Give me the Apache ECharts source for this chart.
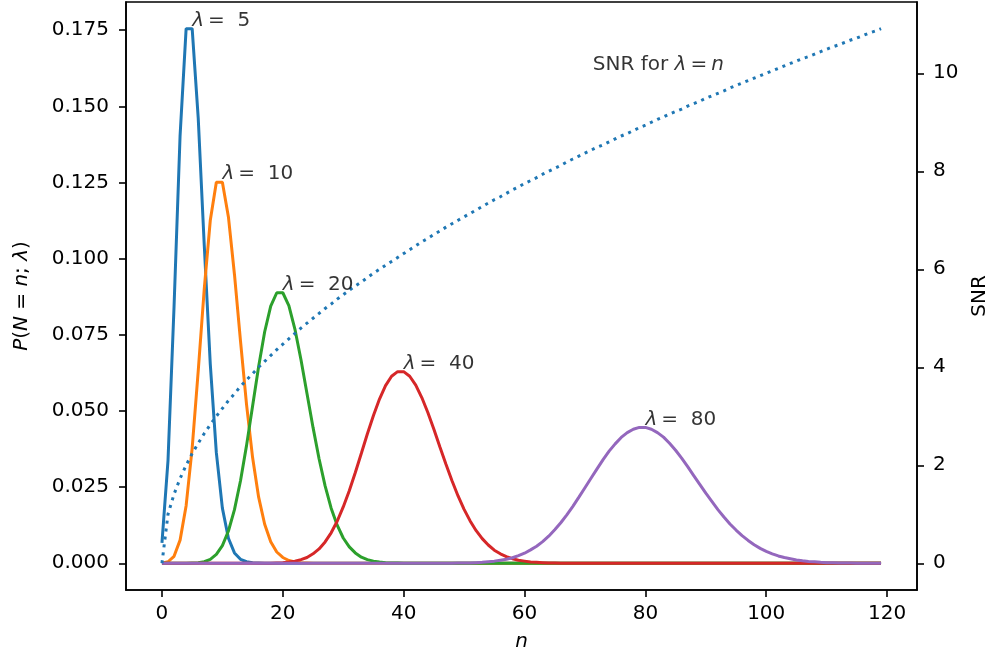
<!DOCTYPE html>
<html>
<head>
<meta charset="utf-8">
<script src="https://cdn.jsdelivr.net/npm/echarts@6/dist/echarts.min.js"></script>
<style>
  html, body { margin: 0; padding: 0; background: #fff; }
  #grafico { width: 996px; height: 660px; }
</style>
</head>
<body>
<div id="grafico"></div>
<script>
// n = 0 .. 119
var n = [0,1,2,3,4,5,6,7,8,9,10,11,12,13,14,15,16,17,18,19,
  20,21,22,23,24,25,26,27,28,29,30,31,32,33,34,35,36,37,38,39,
  40,41,42,43,44,45,46,47,48,49,50,51,52,53,54,55,56,57,58,59,
  60,61,62,63,64,65,66,67,68,69,70,71,72,73,74,75,76,77,78,79,
  80,81,82,83,84,85,86,87,88,89,90,91,92,93,94,95,96,97,98,99,
  100,101,102,103,104,105,106,107,108,109,110,111,112,113,114,115,116,117,118,119];

// P(N = n; lambda)
var p5 = [0.0067,0.0337,0.0842,0.1404,0.1755,0.1755,0.1462,0.1044,0.0653,0.0363,
  0.0181,0.0082,0.0034,0.0013,0.0005,0.0002,0.0001,0,0,0,
  0,0,0,0,0,0,0,0,0,0,0,0,0,0,0,0,0,0,0,0,
  0,0,0,0,0,0,0,0,0,0,0,0,0,0,0,0,0,0,0,0,
  0,0,0,0,0,0,0,0,0,0,0,0,0,0,0,0,0,0,0,0,
  0,0,0,0,0,0,0,0,0,0,0,0,0,0,0,0,0,0,0,0,
  0,0,0,0,0,0,0,0,0,0,0,0,0,0,0,0,0,0,0,0];
var p10 = [0,0.0005,0.0023,0.0076,0.0189,0.0378,0.0631,0.0901,0.1126,0.1251,
  0.1251,0.1137,0.0948,0.0729,0.0521,0.0347,0.0217,0.0128,0.0071,0.0037,
  0.0019,0.0009,0.0004,0.0002,0.0001,0,0,0,0,0,0,0,0,0,0,0,0,0,0,0,
  0,0,0,0,0,0,0,0,0,0,0,0,0,0,0,0,0,0,0,0,
  0,0,0,0,0,0,0,0,0,0,0,0,0,0,0,0,0,0,0,0,
  0,0,0,0,0,0,0,0,0,0,0,0,0,0,0,0,0,0,0,0,
  0,0,0,0,0,0,0,0,0,0,0,0,0,0,0,0,0,0,0,0];
var p20 = [0,0,0,0,0,0.0001,0.0002,0.0005,0.0013,0.0029,
  0.0058,0.0106,0.0176,0.0271,0.0387,0.0516,0.0646,0.0760,0.0844,0.0888,
  0.0888,0.0846,0.0769,0.0669,0.0557,0.0446,0.0343,0.0254,0.0181,0.0125,
  0.0083,0.0054,0.0034,0.0020,0.0012,0.0007,0.0004,0.0002,0.0001,0.0001,
  0,0,0,0,0,0,0,0,0,0,0,0,0,0,0,0,0,0,0,0,
  0,0,0,0,0,0,0,0,0,0,0,0,0,0,0,0,0,0,0,0,
  0,0,0,0,0,0,0,0,0,0,0,0,0,0,0,0,0,0,0,0,
  0,0,0,0,0,0,0,0,0,0,0,0,0,0,0,0,0,0,0,0];
var p40 = [0,0,0,0,0,0,0,0,0,0,0,0,0,0,0,0,0,0,0,0.0001,
  0.0002,0.0004,0.0007,0.0012,0.0019,0.0031,0.0047,0.0070,0.0100,0.0138,
  0.0185,0.0238,0.0298,0.0361,0.0425,0.0485,0.0539,0.0583,0.0614,0.0629,
  0.0629,0.0614,0.0585,0.0544,0.0495,0.0440,0.0382,0.0325,0.0271,0.0221,
  0.0177,0.0139,0.0107,0.0081,0.0060,0.0043,0.0031,0.0022,0.0015,0.0010,
  0.0007,0.0004,0.0003,0.0002,0.0001,0.0001,0,0,0,0,
  0,0,0,0,0,0,0,0,0,0,0,0,0,0,0,0,0,0,0,0,
  0,0,0,0,0,0,0,0,0,0,0,0,0,0,0,0,0,0,0,0,
  0,0,0,0,0,0,0,0,0,0,0,0,0,0,0,0,0,0,0,0];
var p80 = [0,0,0,0,0,0,0,0,0,0,0,0,0,0,0,0,0,0,0,0,
  0,0,0,0,0,0,0,0,0,0,0,0,0,0,0,0,0,0,0,0,
  0,0,0,0,0,0,0,0,0,0.0001,0.0001,0.0001,0.0002,0.0003,0.0005,0.0007,0.0010,0.0013,0.0018,0.0025,
  0.0033,0.0044,0.0056,0.0071,0.0089,0.0110,0.0133,0.0159,0.0187,0.0217,
  0.0248,0.0279,0.0310,0.0340,0.0368,0.0392,0.0413,0.0429,0.0440,0.0446,
  0.0446,0.0440,0.0429,0.0414,0.0394,0.0371,0.0345,0.0317,0.0288,0.0259,
  0.0230,0.0203,0.0176,0.0152,0.0129,0.0109,0.0091,0.0075,0.0061,0.0049,
  0.0039,0.0031,0.0024,0.0019,0.0015,0.0011,0.0008,0.0006,0.0005,0.0003,
  0.0002,0.0002,0.0001,0.0001,0.0001,0,0,0,0,0];

// SNR for lambda = n (right axis)
var snr = [0,1,1.41,1.73,2,2.24,2.45,2.65,2.83,3,
  3.16,3.32,3.46,3.61,3.74,3.87,4,4.12,4.24,4.36,
  4.47,4.58,4.69,4.80,4.90,5,5.10,5.20,5.29,5.39,
  5.48,5.57,5.66,5.74,5.83,5.92,6,6.08,6.16,6.24,
  6.32,6.40,6.48,6.56,6.63,6.71,6.78,6.86,6.93,7,
  7.07,7.14,7.21,7.28,7.35,7.42,7.48,7.55,7.62,7.68,
  7.75,7.81,7.87,7.94,8,8.06,8.12,8.19,8.25,8.31,
  8.37,8.43,8.49,8.54,8.60,8.66,8.72,8.77,8.83,8.89,
  8.94,9,9.06,9.11,9.17,9.22,9.27,9.33,9.38,9.43,
  9.49,9.54,9.59,9.64,9.70,9.75,9.80,9.85,9.90,9.95,
  10,10.05,10.10,10.15,10.20,10.25,10.30,10.34,10.39,10.44,
  10.49,10.54,10.58,10.63,10.68,10.72,10.77,10.82,10.86,10.91];

var lambdas = [5, 10, 20, 40, 80];
var xTicks = [0, 20, 40, 60, 80, 100, 120];
var leftTicks = [0, 0.025, 0.05, 0.075, 0.1, 0.125, 0.15, 0.175];
var rightTicks = [0, 2, 4, 6, 8, 10];

var colores = ['#1f77b4', '#ff7f0e', '#2ca02c', '#d62728', '#9467bd'];
var pmfs = [p5, p10, p20, p40, p80];
var FONT = 'DejaVu Sans';

function pares(ys) {
    return ys.map(function (v, i) { return [n[i], v]; });
}

var ejeComun = {
    axisLine: { show: true, onZero: false, lineStyle: { color: '#000', width: 1.6 } },
    axisTick: { show: true, inside: false, length: 7, lineStyle: { color: '#000', width: 1.6 } },
    splitLine: { show: false },
    nameTextStyle: { color: '#000', fontFamily: FONT, fontSize: 20,
        rich: { i: { fontStyle: 'italic', fontFamily: FONT, fontSize: 20, color: '#000' } } }
};

function eje(extra) {
    return Object.assign({}, JSON.parse(JSON.stringify(ejeComun)), extra);
}

var series = pmfs.map(function (p, k) {
    return {
        type: 'line',
        data: pares(p),
        showSymbol: false,
        symbol: 'none',
        lineStyle: { color: colores[k], width: 3 },
        itemStyle: { color: colores[k] },
        z: 2
    };
});

// etiquetas lambda = k en el pico de cada curva
series.push({
    type: 'scatter',
    symbolSize: 0,
    silent: true,
    data: lambdas.map(function (l, k) { return [l, pmfs[k][l]]; }),
    label: {
        show: true,
        position: [0, 0],
        align: 'left',
        verticalAlign: 'bottom',
        offset: [0, 2],
        color: '#000',
        fontFamily: FONT,
        fontSize: 20,
        lineHeight: 20,
        formatter: function (p) { return '{i|λ}\u2009=  ' + p.value[0]; },
        rich: { i: { fontStyle: 'italic', fontFamily: FONT, fontSize: 20, color: '#000', lineHeight: 20 } }
    },
    z: 5
});

series.push({
    type: 'line',
    yAxisIndex: 1,
    data: pares(snr),
    showSymbol: false,
    symbol: 'none',
    lineStyle: { color: '#1f77b4', width: 3, type: [3, 5], cap: 'butt' },
    z: 3
});

// texto "SNR for lambda = n"
series.push({
    type: 'scatter',
    yAxisIndex: 1,
    symbolSize: 0,
    silent: true,
    data: [[71.3, 10.0]],
    label: {
        show: true,
        position: [0, 0],
        align: 'left',
        verticalAlign: 'bottom',
        offset: [0, 2],
        color: '#000',
        fontFamily: FONT,
        fontSize: 20,
        lineHeight: 20,
        formatter: 'SNR for {i|λ}\u2009=\u2009{i|n}',
        rich: { i: { fontStyle: 'italic', fontFamily: FONT, fontSize: 20, color: '#000', lineHeight: 20 } }
    },
    z: 5
});

var myChart = echarts.init(document.getElementById('grafico'), null, { renderer: 'canvas' });

var option = {
    animation: false,
    backgroundColor: '#fff',
    textStyle: { fontFamily: FONT },
    grid: {
        left: 126, right: 79, top: 2, bottom: 70,
        show: true, borderColor: '#000', borderWidth: 1.6,
        outerBoundsMode: 'none'
    },
    xAxis: eje({
        type: 'value',
        min: -5.95, max: 124.95,
        name: '{i|n}',
        nameLocation: 'middle',
        nameGap: 42,
        axisLabel: { customValues: xTicks, color: '#000', fontFamily: FONT, fontSize: 20, margin: 14 },
        axisTick: { show: true, customValues: xTicks, length: 7, lineStyle: { color: '#000', width: 1.6 } }
    }),
    yAxis: [eje({
        type: 'value',
        position: 'left',
        min: -0.008774, max: 0.184244,
        name: '{i|P}({i|N} = {i|n}; {i|λ})',
        nameLocation: 'middle',
        nameRotate: 90,
        nameGap: 94,
        axisLabel: { customValues: leftTicks, color: '#000', fontFamily: FONT, fontSize: 20, margin: 17,
            formatter: function (v) { return v.toFixed(3); } },
        axisTick: { show: true, customValues: leftTicks, length: 7, lineStyle: { color: '#000', width: 1.6 } }
    }), eje({
        type: 'value',
        position: 'right',
        min: -0.5454, max: 11.4545,
        name: 'SNR',
        nameLocation: 'middle',
        nameRotate: 90,
        nameGap: 52,
        axisLabel: { customValues: rightTicks, color: '#000', fontFamily: FONT, fontSize: 20, margin: 16 },
        axisTick: { show: true, customValues: rightTicks, length: 7, lineStyle: { color: '#000', width: 1.6 } }
    })],
    series: series
};

myChart.setOption(option);
</script>
</body>
</html>
